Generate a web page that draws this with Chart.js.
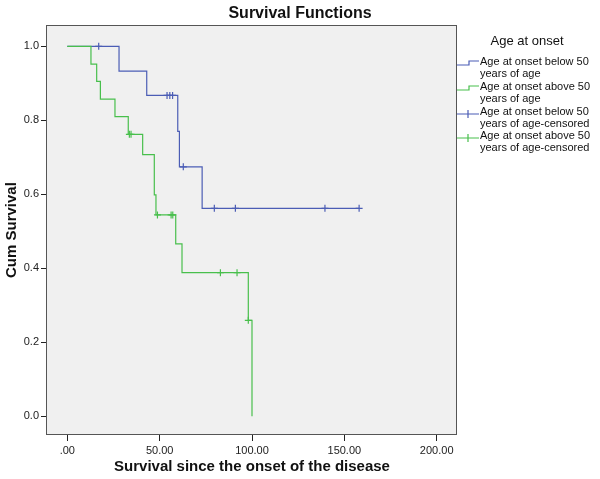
<!DOCTYPE html>
<html lang="en">
<head>
  <meta charset="UTF-8" />
  <title>Survival Functions</title>
  <script src="https://cdn.jsdelivr.net/npm/chart.js"></script>
  <style>
    body { margin: 0; background: #fff; }
    #wrap { width: 600px; height: 479px; }
  </style>
</head>
<body>
  <div id="wrap"><canvas id="chart" width="600" height="479"></canvas></div>

  <script>
    // Kaplan-Meier steps
    const belowTimes = [0, 28, 43, 59.8, 60.7, 73, 158];
    const belowSurv = [1, 0.933, 0.867, 0.770, 0.674, 0.562, 0.562];
    const belowCensTimes = [17, 54, 55.5, 57, 62.8, 79.6, 91, 139.5, 158];
    const belowCensSurv = [1, 0.867, 0.867, 0.867, 0.674, 0.562, 0.562, 0.562, 0.562];

    const aboveTimes = [0, 12.8, 15.9, 17.9, 25.8, 33, 40.8, 47.1, 48, 58.7, 62.1, 98, 100];
    const aboveSurv = [1, 0.952, 0.905, 0.857, 0.810, 0.762, 0.707, 0.598, 0.544, 0.466, 0.388, 0.259, 0];
    const aboveCensTimes = [33.6, 34.5, 48.8, 56.2, 57.1, 82.9, 91.9, 98];
    const aboveCensSurv = [0.762, 0.762, 0.544, 0.544, 0.544, 0.388, 0.388, 0.259];

    const xTicks = [0, 50, 100, 150, 200];
    const yTicks = [0, 0.2, 0.4, 0.6, 0.8, 1.0];

    const legendTitle = "Age at onset";
    const legendLabels = [
      ["Age at onset below 50", "years of age"],
      ["Age at onset above 50", "years of age"],
      ["Age at onset below 50", "years of age-censored"],
      ["Age at onset above 50", "years of age-censored"]
    ];

    const BLUE = "#4b5db5";
    const GREEN = "#48bf4c";
    const FONT = "'Liberation Sans', Arial, sans-serif";

    const pts = (xs, ys) => xs.map((x, i) => ({ x: x, y: ys[i] }));

    const frame = {
      id: "frame",
      beforeDatasetsDraw(chart) {
        const { ctx, chartArea: a } = chart;
        ctx.save();
        ctx.fillStyle = "#f0f0f0";
        ctx.fillRect(a.left, a.top, a.right - a.left, a.bottom - a.top);
        ctx.restore();
      },
      afterDraw(chart) {
        const { ctx, chartArea: a } = chart;
        ctx.save();
        ctx.strokeStyle = "#555";
        ctx.lineWidth = 1;
        ctx.strokeRect(Math.round(a.left) - 0.5, Math.round(a.top) + 0.5,
          Math.round(a.right - a.left), Math.round(a.bottom - a.top) - 1);

        // legend on the right
        const x0 = Math.round(a.right);
        ctx.fillStyle = "#111";
        ctx.textBaseline = "middle";
        ctx.font = "13px " + FONT;
        ctx.textAlign = "center";
        ctx.fillText(legendTitle, 527, 41);
        ctx.font = "11px " + FONT;
        ctx.textAlign = "left";
        const rows = [62, 87, 112, 136];
        legendLabels.forEach((lines, i) => {
          const y = rows[i];
          lines.forEach((t, j) => ctx.fillText(t, 480, y + j * 11.5));
          ctx.strokeStyle = i % 2 === 0 ? BLUE : GREEN;
          ctx.lineWidth = 1.2;
          ctx.beginPath();
          if (i < 2) {
            ctx.moveTo(x0, y + 3);
            ctx.lineTo(x0 + 12, y + 3);
            ctx.lineTo(x0 + 12, y - 1);
            ctx.lineTo(x0 + 22, y - 1);
          } else {
            ctx.moveTo(x0, y + 2);
            ctx.lineTo(x0 + 22, y + 2);
            ctx.moveTo(x0 + 11, y - 2);
            ctx.lineTo(x0 + 11, y + 6);
          }
          ctx.stroke();
        });
        ctx.restore();
      }
    };

    new Chart(document.getElementById("chart"), {
      type: "scatter",
      data: {
        datasets: [
          {
            label: "above",
            data: pts(aboveTimes, aboveSurv),
            showLine: true,
            stepped: true,
            borderColor: GREEN,
            borderWidth: 1.2,
            pointRadius: 0,
            order: 0
          },
          {
            label: "above-censored",
            data: pts(aboveCensTimes, aboveCensSurv),
            pointStyle: "cross",
            pointRadius: 3.5,
            borderColor: GREEN,
            borderWidth: 1.2,
            order: 0
          },
          {
            label: "below",
            data: pts(belowTimes, belowSurv),
            showLine: true,
            stepped: true,
            borderColor: BLUE,
            borderWidth: 1.2,
            pointRadius: 0,
            order: 1
          },
          {
            label: "below-censored",
            data: pts(belowCensTimes, belowCensSurv),
            pointStyle: "cross",
            pointRadius: 3.5,
            borderColor: BLUE,
            borderWidth: 1.2,
            order: 1
          }
        ]
      },
      options: {
        responsive: false,
        animation: false,
        plugins: {
          legend: { display: false },
          tooltip: { enabled: false },
          title: {
            display: true,
            text: "Survival Functions",
            color: "#111",
            font: { family: FONT, size: 16, weight: "bold" },
            padding: { top: 4, bottom: 2 }
          }
        },
        scales: {
          x: {
            type: "linear",
            min: -11,
            max: 211,
            afterBuildTicks: s => { s.ticks = xTicks.map(v => ({ value: v })); },
            afterFit: s => { s.height = 44; },
            grid: { drawOnChartArea: false, tickLength: 6, tickColor: "#222" },
            border: { display: false },
            ticks: {
              color: "#222",
              padding: 3,
              maxRotation: 0,
              font: { family: FONT, size: 11 },
              callback: v => v === 0 ? ".00" : v.toFixed(2)
            },
            title: {
              display: true,
              text: "Survival since the onset of the disease",
              color: "#111",
              font: { family: FONT, size: 15, weight: "bold" },
              padding: { top: 0, bottom: 3 }
            }
          },
          y: {
            min: -0.051,
            max: 1.057,
            afterBuildTicks: s => { s.ticks = yTicks.map(v => ({ value: v })); },
            afterFit: s => { s.width = 47; },
            grid: { drawOnChartArea: false, tickLength: 6, tickColor: "#222" },
            border: { display: false },
            ticks: {
              color: "#222",
              padding: 2,
              font: { family: FONT, size: 11 },
              callback: v => v.toFixed(1)
            },
            title: {
              display: true,
              text: "Cum Survival",
              color: "#111",
              font: { family: FONT, size: 15, weight: "bold" },
              padding: { top: 3, bottom: 0 }
            }
          },
          side: {
            type: "linear",
            position: "right",
            display: true,
            afterFit: s => { s.width = 143; },
            grid: { display: false },
            border: { display: false },
            ticks: { display: false }
          }
        }
      },
      plugins: [frame]
    });
  </script>
</body>
</html>
